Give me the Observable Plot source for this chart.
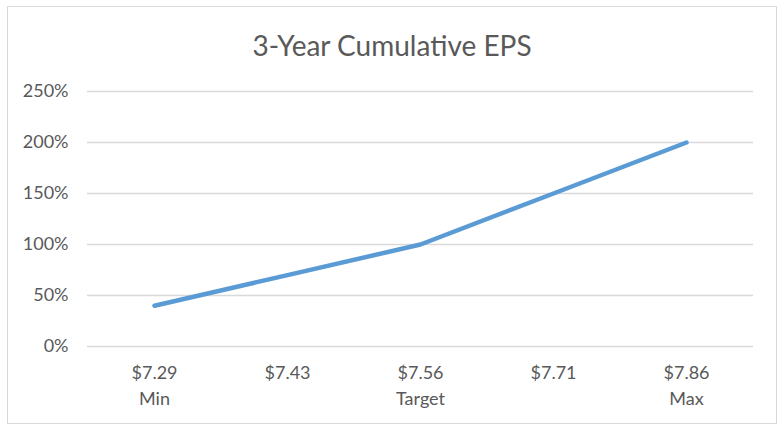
<!DOCTYPE html>
<html>
<head>
<meta charset="utf-8">
<script src="https://cdn.jsdelivr.net/npm/d3@7"></script>
<script src="https://cdn.jsdelivr.net/npm/@observablehq/plot@0.6"></script>
<style>
  html, body { margin: 0; padding: 0; background: #fff; }
  #wrap { position: relative; width: 784px; height: 430px; overflow: hidden; font-family: Lato, "Open Sans", sans-serif; }
  #frame { position: absolute; left: 7px; top: 6px; width: 770px; height: 418px; border: 1.5px solid #d9d9d9; box-sizing: border-box; }
  #title { position: absolute; left: 0; width: 784px; top: 27px; text-align: center; font-size: 28px; color: #595959; line-height: 36px; }
  #chart { position: absolute; left: 0; top: 0; }
</style>
</head>
<body>
<div id="wrap">
  <div id="frame"></div>
  <div id="chart"></div>
  <div id="title">3-Year Cumulative EPS</div>
</div>
<script>
const prices = ["$7.29", "$7.43", "$7.56", "$7.71", "$7.86"];
const labels = ["Min", "", "Target", "", "Max"];
const payout = [40, 70, 100, 150, 200];
const yTicks = [0, 50, 100, 150, 200, 250];

const categories = prices.map((p, i) => labels[i] ? p + "\n" + labels[i] : p);
const data = categories.map((c, i) => ({cat: c, value: payout[i]}));

const chart = Plot.plot({
  width: 784,
  height: 430,
  marginLeft: 87,
  marginRight: 31,
  marginTop: 91,
  marginBottom: 84,
  style: {fontFamily: "Lato, 'Open Sans', sans-serif", fontSize: "18px", color: "#595959", background: "transparent"},
  x: {type: "point", domain: categories, padding: 0.5},
  y: {domain: [0, 250]},
  marks: [
    Plot.gridY(yTicks, {stroke: "#d9d9d9", strokeOpacity: 1, strokeWidth: 1.5}),
    Plot.axisY(yTicks, {tickSize: 0, tickPadding: 19, tickFormat: d => d + "%", label: null, fill: "#595959", fontSize: 18}),
    Plot.axisX({tickSize: 0, tickPadding: 15, label: null, fill: "#595959", fontSize: 18, lineHeight: 1.4}),
    Plot.line(data, {x: "cat", y: "value", stroke: "#5b9bd5", strokeWidth: 4.5, strokeLinecap: "round", strokeLinejoin: "round"})
  ]
});
document.getElementById("chart").appendChild(chart);
</script>
</body>
</html>
